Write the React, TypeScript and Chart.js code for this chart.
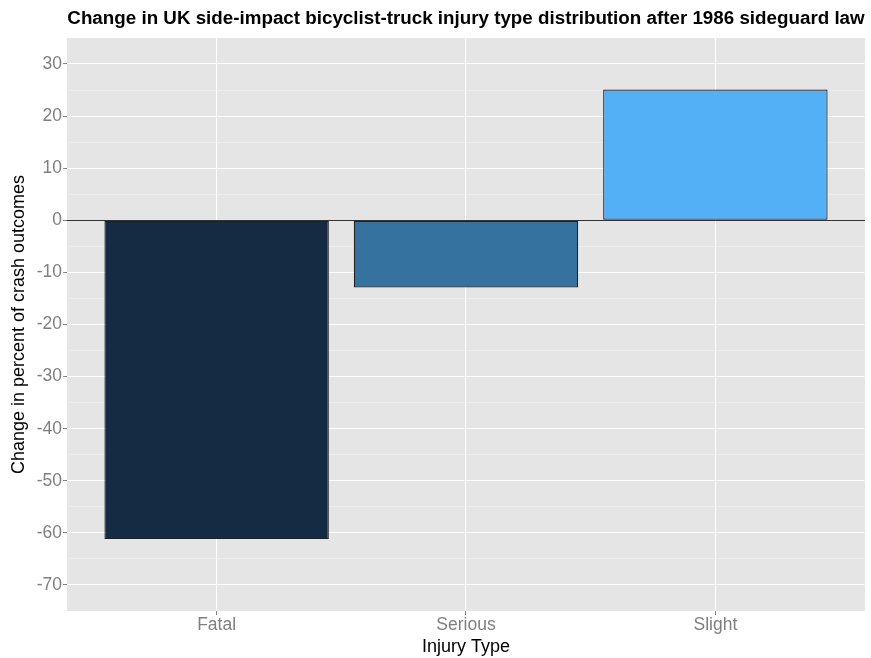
import React, { useEffect, useRef } from "react";
import { Chart, registerables } from "chart.js";

Chart.register(...registerables);

const categories = ["Fatal", "Serious", "Slight"];
const changeValues = [-61.2, -12.9, 25.1];
const barColors = ["#152B44", "#3572A0", "#53AFF6"];
const yMin = -75;
const yMax = 35;

const TITLE = "Change in UK side-impact bicyclist-truck injury type distribution after 1986 sideguard law";
const X_TITLE = "Injury Type";
const Y_TITLE = "Change in percent of crash outcomes";
const FONT = "'Liberation Sans', Arial, sans-serif";

const panelPlugin = {
  id: "panelPlugin",
  beforeDraw(chart: any) {
    const { ctx, chartArea } = chart;
    ctx.save();
    ctx.fillStyle = "#FFFFFF";
    ctx.fillRect(0, 0, chart.width, chart.height);
    ctx.fillStyle = "#E5E5E5";
    ctx.fillRect(chartArea.left, chartArea.top, chartArea.right - chartArea.left, chartArea.bottom - chartArea.top);
    ctx.restore();
  },
  afterDatasetsDraw(chart: any) {
    const { ctx, chartArea, scales } = chart;
    const y0 = Math.round(scales.y.getPixelForValue(0)) + 0.5;
    ctx.save();
    ctx.strokeStyle = "#333333";
    ctx.lineWidth = 1;
    ctx.beginPath();
    ctx.moveTo(chartArea.left, y0);
    ctx.lineTo(chartArea.right, y0);
    ctx.stroke();
    ctx.restore();
  },
  afterDraw(chart: any) {
    const { ctx, chartArea } = chart;
    const cx = (chartArea.left + chartArea.right) / 2;
    const cy = (chartArea.top + chartArea.bottom) / 2;
    ctx.save();
    ctx.fillStyle = "#000000";
    ctx.textAlign = "center";
    ctx.textBaseline = "alphabetic";
    ctx.font = `bold 18.8px ${FONT}`;
    ctx.fillText(TITLE, cx, 24);
    ctx.font = `18px ${FONT}`;
    ctx.fillText(X_TITLE, cx, 651.5);
    ctx.translate(23.5, cy);
    ctx.rotate(-Math.PI / 2);
    ctx.fillText(Y_TITLE, 0, 0);
    ctx.restore();
  },
};

export default function App() {
  const canvasRef = useRef<HTMLCanvasElement | null>(null);

  useEffect(() => {
    const canvas = canvasRef.current;
    if (!canvas) return;
    const data = categories.map((c, i) => ({ x: i + 1, y: changeValues[i] }));
    const chart = new Chart(canvas, {
      type: "bar",
      data: {
        datasets: [
          {
            data: data as any,
            backgroundColor: barColors,
            borderColor: "rgba(10,10,10,0.9)",
            borderWidth: 1.2,
            borderSkipped: false,
            barPercentage: 0.9,
            categoryPercentage: 1,
          },
        ],
      },
      options: {
        animation: false,
        responsive: false,
        maintainAspectRatio: false,
        layout: { padding: { top: 38, right: 6, left: 0, bottom: 0 } },
        plugins: { legend: { display: false }, tooltip: { enabled: false }, title: { display: false } },
        scales: {
          x: {
            type: "linear",
            min: 0.4,
            max: 3.6,
            offset: false,
            afterBuildTicks: (scale: any) => {
              scale.ticks = categories.map((_, i) => ({ value: i + 1 }));
            },
            afterFit: (scale: any) => {
              scale.height = 47;
            },
            border: { display: false },
            grid: {
              offset: false,
              color: "#FFFFFF",
              lineWidth: 1.1,
              drawTicks: true,
              tickLength: 4,
              tickColor: "#7F7F7F",
              tickWidth: 1,
            },
            ticks: {
              padding: 0,
              color: "#7F7F7F",
              font: { family: FONT, size: 17.5 },
              maxRotation: 0,
              autoSkip: false,
              callback: (v: any) => categories[Math.round(Number(v)) - 1] ?? "",
            },
          },
          y: {
            type: "linear",
            min: yMin,
            max: yMax,
            afterFit: (scale: any) => {
              scale.width = 67;
            },
            border: { display: false },
            grid: {
              color: (ctx: any) => {
                const v = ctx.tick?.value;
                if (v === yMin || v === yMax) return "rgba(0,0,0,0)";
                return v % 10 === 0 ? "#FFFFFF" : "#F2F2F2";
              },
              lineWidth: (ctx: any) => (ctx.tick?.value % 10 === 0 ? 1.1 : 0.6),
              drawTicks: true,
              tickLength: 4,
              tickColor: (ctx: any) => (ctx.tick?.value % 10 === 0 ? "#7F7F7F" : "rgba(0,0,0,0)"),
              tickWidth: 1,
            },
            ticks: {
              stepSize: 5,
              padding: 1,
              color: "#7F7F7F",
              font: { family: FONT, size: 17.5 },
              autoSkip: false,
              callback: (v: any) => (Number(v) % 10 === 0 ? String(v) : ""),
            },
          },
        },
      },
      plugins: [panelPlugin],
    });
    return () => chart.destroy();
  }, []);

  return (
    <div style={{ position: "fixed", left: 0, top: 0, width: 871, height: 658, background: "#fff" }}>
      <canvas ref={canvasRef} width={871} height={658} style={{ display: "block", width: 871, height: 658 }} />
    </div>
  );
}
